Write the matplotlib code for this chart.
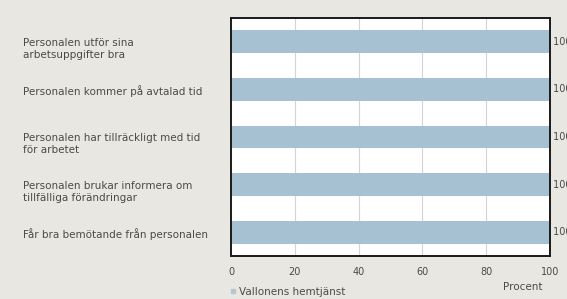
import matplotlib.pyplot as plt
from matplotlib.lines import Line2D
import matplotlib.transforms as mtransforms

# * Data

categories = [
    "Personalen utför sina\narbetsuppgifter bra",
    "Personalen kommer på avtalad tid",
    "Personalen har tillräckligt med tid\nför arbetet",
    "Personalen brukar informera om\ntillfälliga förändringar",
    "Får bra bemötande från personalen",
]
values = [100, 100, 100, 100, 100]
xticks = [0, 20, 40, 60, 80, 100]
series_name = "Vallonens hemtjänst"

# * Style

BG = "#e9e7e1"
BAR = "#a6c1d1"
TXT = "#4a4a4a"
FS = 7.0
FS_CAT = 7.5

fig = plt.figure(figsize=(5.67, 2.99), dpi=100, facecolor=BG)
ax = fig.add_axes([0.4074, 0.144, 0.5626, 0.796])
ax.set_facecolor("white")

y = list(range(len(categories)))
ax.barh(y, values, height=0.48, color=BAR, zorder=2)
ax.set_ylim(len(categories) - 0.5, -0.5)
ax.set_xlim(0, 100)

ax.set_xticks(xticks)
ax.set_xticklabels([str(t) for t in xticks], fontsize=FS, color=TXT)
ax.tick_params(axis="x", length=0, pad=8)
ax.set_yticks([])
ax.grid(axis="x", color="#d4d4d4", linewidth=0.8, zorder=1)

for s in ax.spines.values():
    s.set_color("#1a1a1a")
    s.set_linewidth(1.4)

# Category labels, left aligned at the figure edge, top at bar center.
trans = mtransforms.blended_transform_factory(fig.transFigure, ax.transData)
off = mtransforms.ScaledTranslation(0, 4 / 100, fig.dpi_scale_trans)
for i, lab in enumerate(categories):
    ax.text(23 / 567, i, lab, transform=trans + off, ha="left", va="top",
            fontsize=FS_CAT, color=TXT, linespacing=1.3)

# Value labels, cut off by the figure edge like in the source.
for i, v in enumerate(values):
    ax.text(v, i, " %d" % v, ha="left", va="center", fontsize=FS,
            color=TXT, clip_on=False)

ax.set_xlabel("Procent", fontsize=FS_CAT, color=TXT)
ax.xaxis.set_label_coords(0.915, -0.11)

handle = Line2D([], [], marker="s", linestyle="none", markersize=2.5,
                color="#b8c6cf")
fig.legend([handle], [series_name], loc="center left",
           bbox_to_anchor=(230 / 567, 1 - 292 / 299), frameon=False,
           fontsize=FS_CAT, labelcolor=TXT, handlelength=0.6,
           handletextpad=0.3, borderpad=0, borderaxespad=0)

fig.savefig("out.png", dpi=100, facecolor=BG)
